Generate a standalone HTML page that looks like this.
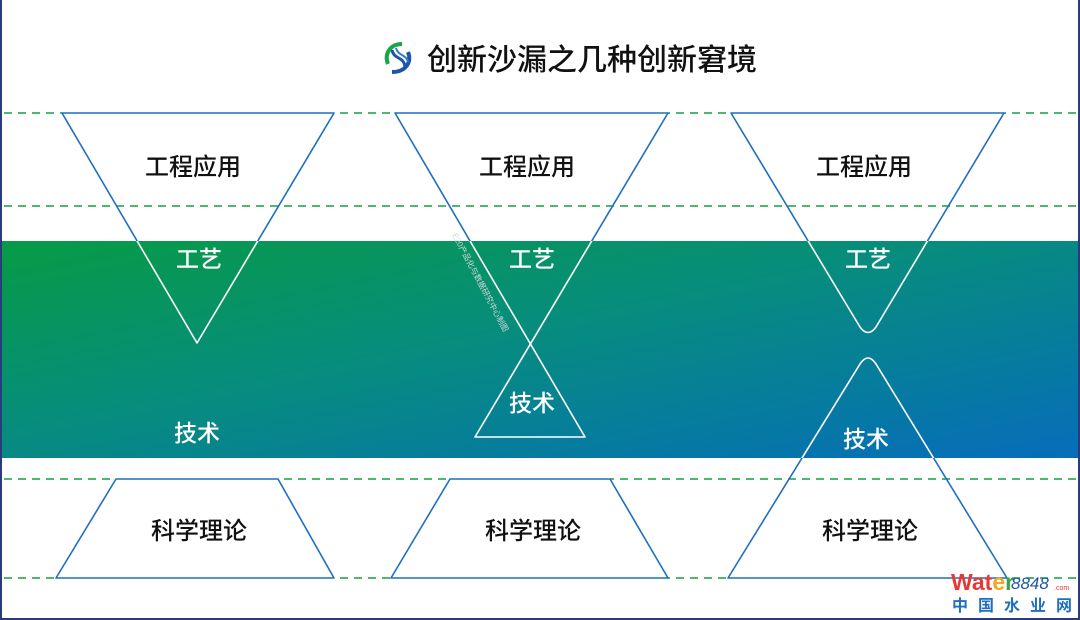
<!DOCTYPE html>
<html><head><meta charset="utf-8"><style>
html,body{margin:0;padding:0;background:#fff}
svg{display:block}
text{font-family:"Liberation Sans","Noto Sans CJK SC",sans-serif}
</style></head><body>
<svg width="1080" height="620" viewBox="0 0 1080 620" xmlns="http://www.w3.org/2000/svg">
<defs>
<linearGradient id="g" x1="0" y1="0" x2="1" y2="1" gradientUnits="objectBoundingBox">
<stop offset="0" stop-color="#079b45"/><stop offset="0.45" stop-color="#078c7e"/><stop offset="1" stop-color="#066dbb"/>
</linearGradient>
<clipPath id="in"><rect x="0" y="241" width="1080" height="217"/></clipPath>
<clipPath id="out"><path d="M0 0H1080V241H0Z M0 458H1080V620H0Z"/></clipPath>
<g id="shapes" fill="none" stroke-width="1.6" stroke-linejoin="round">
<path d="M62 113H334L197 343Z"/>
<path d="M56 578H334L278 479H116Z"/>
<path d="M395 113H668L475 437H585Z"/>
<path d="M391 578H668L610 479H450Z"/>
<path d="M731 113H1004L876 327Q868 338 860 327Z"/>
<path d="M728 578H1007L876 364Q868 352 860 364Z"/>
</g>
</defs>
<rect x="0" y="241" width="1080" height="217" fill="url(#g)"/>
<g stroke="#14a040" stroke-width="1.5" stroke-dasharray="8 6">
<line x1="4" y1="113" x2="1080" y2="113"/><line x1="4" y1="206" x2="1080" y2="206"/>
<line x1="4" y1="479" x2="1080" y2="479"/><line x1="4" y1="578" x2="1080" y2="578"/>
</g>
<rect x="62" y="112" width="272" height="2" fill="#fff"/>
<rect x="395" y="112" width="273" height="2" fill="#fff"/>
<rect x="731" y="112" width="273" height="2" fill="#fff"/>
<rect x="116" y="478" width="162" height="2" fill="#fff"/>
<rect x="450" y="478" width="160" height="2" fill="#fff"/>
<rect x="56" y="577" width="278" height="2" fill="#fff"/>
<rect x="391" y="577" width="277" height="2" fill="#fff"/>
<rect x="728" y="577" width="279" height="2" fill="#fff"/>
<use href="#shapes" stroke="#1f6fc0" clip-path="url(#out)"/>
<use href="#shapes" stroke="#ffffff" clip-path="url(#in)"/>
<g fill="#111" font-size="24" font-weight="500" text-anchor="middle">
<text x="193" y="175">工程应用</text><text x="527" y="175">工程应用</text><text x="864" y="175">工程应用</text>
<text x="199" y="539">科学理论</text><text x="533" y="539">科学理论</text><text x="870" y="539">科学理论</text>
</g>
<g fill="#fff" font-size="23" font-weight="500" text-anchor="middle">
<text x="199" y="267">工艺</text><text x="532" y="267">工艺</text><text x="868" y="267">工艺</text>
<text x="197" y="441">技术</text><text x="532" y="411">技术</text><text x="866" y="447">技术</text>
</g>
<text x="452" y="235" font-size="8" fill="#cfd8d8" transform="rotate(62 452 235)">E20产品化与数据研究中心制图</text>
<g transform="translate(384,42)" fill="none">
<path d="M18 2C6 2 0 12 4 22" stroke="#1aa64a" stroke-width="4"/>
<path d="M8 30C22 30 28 20 24 10" stroke="#1f55a8" stroke-width="4"/>
<path d="M8 8C10 18 20 14 21 25" stroke="#1f55a8" stroke-width="3"/>
<path d="M12 6C14 14 22 12 24 20" stroke="#2b7fd0" stroke-width="2"/>
</g>
<text x="427" y="70" font-size="30" font-weight="500" fill="#111">创新沙漏之几种创新窘境</text>
<text x="951" y="590" font-size="23" font-weight="bold" fill="#e53935">Wat<tspan fill="#f5a623">e</tspan><tspan fill="#3aa34a">r</tspan></text>
<text x="1011" y="589" font-size="17" font-style="italic" fill="#1f55a8">8848</text>
<text x="1054" y="590" font-size="7" fill="#e53935">.com</text>
<text x="952" y="611" font-size="16" font-weight="bold" fill="#1f6fc0" letter-spacing="10">中国水业网</text>
<rect x="0" y="0" width="2" height="620" fill="#2b3a7a"/>
<rect x="1078" y="0" width="2" height="620" fill="#2b3a7a"/>
<rect x="0" y="618" width="1080" height="2" fill="#2b3a7a"/>
</svg>
</body></html>
